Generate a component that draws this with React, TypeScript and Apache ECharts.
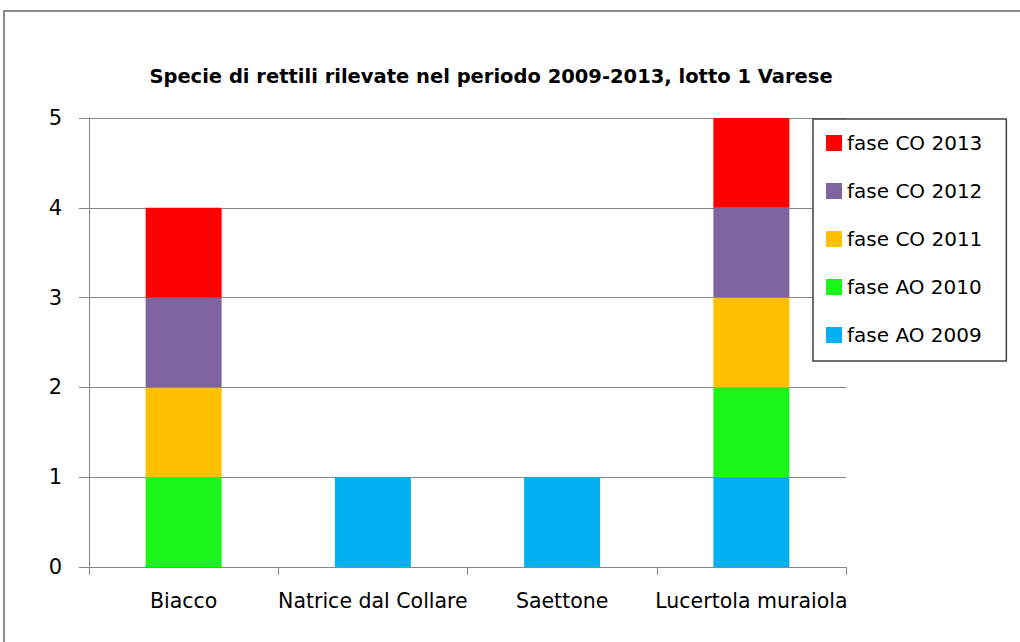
import React, { useEffect, useRef } from "react";
import * as echarts from "echarts";

const categories = ["Biacco", "Natrice dal Collare", "Saettone", "Lucertola muraiola"];
const seriesNames = ["fase AO 2009", "fase AO 2010", "fase CO 2011", "fase CO 2012", "fase CO 2013"];
const ao2009 = [0, 1, 1, 1];
const ao2010 = [1, 0, 0, 1];
const co2011 = [1, 0, 0, 1];
const co2012 = [1, 0, 0, 1];
const co2013 = [1, 0, 0, 1];
const seriesValues = [ao2009, ao2010, co2011, co2012, co2013];
const colors = ["#00B0F0", "#1AF51A", "#FFC000", "#8064A2", "#FF0000"];
const yTicks = [0, 1, 2, 3, 4, 5];
const titleText = "Specie di rettili rilevate nel periodo 2009-2013, lotto 1 Varese";

const FONT = "'DejaVu Sans', sans-serif";

export default function App() {
  const ref = useRef<HTMLDivElement>(null);
  useEffect(() => {
    if (!ref.current) return;
    const chart = echarts.init(ref.current, null, { renderer: "svg" });
    chart.setOption({
      animation: false,
      backgroundColor: "#ffffff",
      title: {
        text: titleText,
        left: 486,
        top: 61,
        textAlign: "center",
        textStyle: { fontFamily: FONT, fontSize: 19.5, fontWeight: "bold", color: "#000" },
      },
      graphic: [
        {
          type: "rect",
          shape: { x: 4, y: 11, width: 1040, height: 660 },
          style: { fill: "none", stroke: "#8c8c8c", lineWidth: 2 },
          silent: true,
        },
      ],
      legend: {
        orient: "vertical",
        left: 813,
        top: 119,
        data: seriesNames.slice().reverse(),
        itemWidth: 16,
        itemHeight: 16,
        itemGap: 28,
        padding: [14, 24, 16, 13],
        borderColor: "#404040",
        borderWidth: 1.5,
        backgroundColor: "#fff",
        icon: "rect",
        textStyle: { fontFamily: FONT, fontSize: 20, color: "#000", lineHeight: 20 },
      },
      grid: { left: 89, right: 174, top: 118, bottom: 75 },
      xAxis: {
        type: "category",
        data: categories,
        axisLine: { lineStyle: { color: "#888", width: 1 } },
        axisTick: { show: true, length: 8, interval: 0, alignWithLabel: false, lineStyle: { color: "#888" } },
        axisLabel: { fontFamily: FONT, fontSize: 20.5, color: "#000", margin: 23, interval: 0 },
      },
      yAxis: {
        type: "value",
        min: 0,
        max: yTicks[yTicks.length - 1],
        interval: 1,
        axisLine: { show: true, lineStyle: { color: "#888", width: 1 } },
        axisTick: { show: true, length: 10, lineStyle: { color: "#888" } },
        axisLabel: { fontFamily: FONT, fontSize: 21, color: "#000", margin: 27 },
        splitLine: { lineStyle: { color: "#888", width: 1 } },
      },
      series: seriesNames.map((name, i) => ({
        name,
        type: "bar",
        stack: "total",
        data: seriesValues[i],
        barWidth: 76,
        itemStyle: { color: colors[i] },
      })),
    });
    return () => chart.dispose();
  }, []);
  return (
    <div
      ref={ref}
      style={{ position: "fixed", left: 0, top: 0, width: 1020, height: 642 }}
    />
  );
}
